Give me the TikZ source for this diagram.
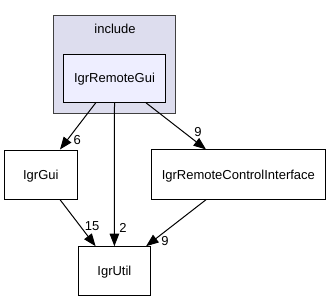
\documentclass[tikz,border=0pt]{standalone}
\usepackage{fontspec}
\setmainfont{Liberation Sans}
\usetikzlibrary{arrows.meta}
\definecolor{clusterfill}{HTML}{DDDDEE}
\definecolor{clusterline}{HTML}{404040}
\definecolor{curfill}{HTML}{EEEEFF}
\begin{document}
\begin{tikzpicture}[x=1pt,y=-1pt,
  font=\fontsize{13}{15}\selectfont,
  box/.style={draw=black, line width=1pt, rectangle, inner sep=0pt,
    text height=9.3pt, text depth=0pt, fill=white},
  dep/.style={draw=black, line width=1pt,
    -{Triangle[length=12.5pt,width=9.5pt]}},
  lbl/.style={inner sep=0pt, text height=9.3pt, text depth=0pt}]
\useasboundingbox (0,0) rectangle (331,300);
\node[box, draw=clusterline, fill=clusterfill, minimum width=122.7pt, minimum height=97.7pt] (incl) at (114.35,64.15) {};
\node[lbl] (incltxt) at (115,29.2) {include};
\node[box, fill=curfill, minimum width=101.6pt, minimum height=48pt] (rg) at (114.5,78.3) {IgrRemoteGui};
\node[box, minimum width=73pt, minimum height=49pt] (gui) at (40.8,174.5) {IgrGui};
\node[box, minimum width=173.3pt, minimum height=49.3pt] (rci) at (238.35,174.6) {IgrRemoteControlInterface};
\node[box, minimum width=72pt, minimum height=48.3pt] (util) at (114.4,270.85) {IgrUtil};
\draw[dep] (rg) -- (gui);
\draw[dep] (rg) -- (rci);
\draw[dep] (rg.south) -- (util.north);
\draw[dep] (gui) -- (util);
\draw[dep] (rci) -- (util);
\node[lbl] (l6) at (77.3,139.5) {6};
\node[lbl] (l9a) at (198,131.8) {9};
\node[lbl] (l2) at (123,228) {2};
\node[lbl] (l15) at (92.2,225.7) {15};
\node[lbl] (l9b) at (165,240.5) {9};
\end{tikzpicture}
\end{document}
